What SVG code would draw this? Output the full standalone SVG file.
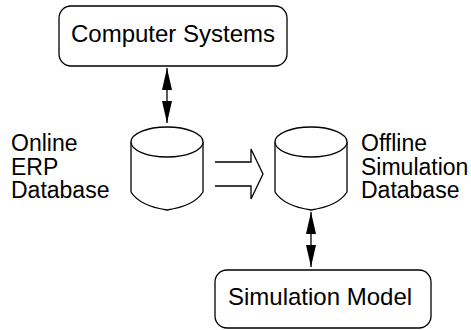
<svg xmlns="http://www.w3.org/2000/svg" width="471" height="330" viewBox="0 0 471 330">
<defs>
<style>
.box{fill:#fff;stroke:#000;stroke-width:1.3}
.db{fill:#fff;stroke:#000;stroke-width:1.3}
.lbl{font-family:"Liberation Sans",Arial,sans-serif;font-size:23px;fill:#000}
.btxt{font-family:"Liberation Sans",Arial,sans-serif;font-size:24px;fill:#000}
.conn{stroke:#000;stroke-width:1.3;fill:none}
</style>
<marker id="ah" viewBox="0 0 22 10" refX="22" refY="5" markerWidth="22" markerHeight="10" markerUnits="userSpaceOnUse" orient="auto-start-reverse">
<path d="M0,0 L22,5 L0,10 Z" fill="#000"/>
</marker>
</defs>
<rect width="471" height="330" fill="#fff"/>
<g id="computer-systems">
<rect class="box" x="59" y="6" width="228" height="60" rx="12" ry="12"/>
<text class="btxt" x="173" y="42" text-anchor="middle">Computer Systems</text>
</g>
<g id="online-erp-db">
<path class="db" d="M131,142 V192 Q140,206 167,210 Q194,206 203,192 V142"/>
<ellipse class="db" cx="167" cy="142" rx="36" ry="15"/>
<text class="lbl" x="11" y="151">Online</text>
<text class="lbl" x="11" y="175">ERP</text>
<text class="lbl" x="11" y="198">Database</text>
</g>
<g id="offline-sim-db">
<path class="db" d="M275,142 V192 Q284,206 311,210 Q338,206 347,192 V142"/>
<ellipse class="db" cx="311" cy="142" rx="36" ry="15"/>
<text class="lbl" x="361" y="151">Offline</text>
<text class="lbl" x="361" y="175">Simulation</text>
<text class="lbl" x="361" y="198">Database</text>
</g>
<g id="simulation-model">
<rect class="box" x="215" y="270" width="216" height="58" rx="12" ry="12"/>
<text class="btxt" x="228" y="305">Simulation Model</text>
</g>
<g id="connectors">
<line class="conn" x1="167" y1="68" x2="167" y2="123" marker-start="url(#ah)" marker-end="url(#ah)"/>
<line class="conn" x1="311" y1="212" x2="311" y2="267" marker-start="url(#ah)" marker-end="url(#ah)"/>
<path class="conn" d="M215,162 H251 V149 L263,174 L251,199 V186 H215"/>
</g>
</svg>
